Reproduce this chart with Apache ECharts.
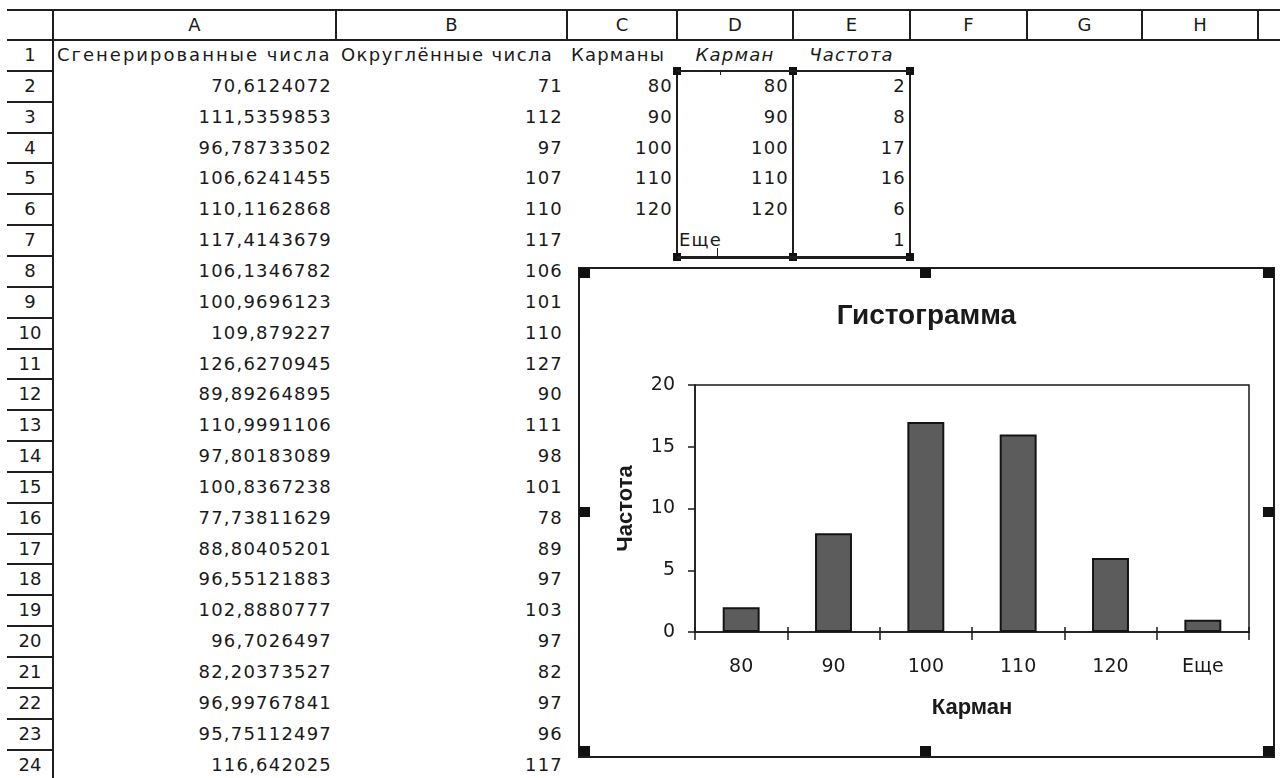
<!DOCTYPE html>
<html>
<head>
<meta charset="utf-8">
<title>Гистограмма</title>
<script src="https://cdn.jsdelivr.net/npm/echarts@6/dist/echarts.min.js"></script>
<style>
  html, body { margin: 0; padding: 0; background: #fff; width: 1280px; height: 778px; overflow: hidden; }
  #sheet { position: absolute; left: 0; top: 0; width: 1280px; height: 778px;
           font-family: "DejaVu Sans", sans-serif; font-size: 18px; color: #1a1a1a; }
  .cell { position: absolute; white-space: nowrap; letter-spacing: 1.2px; box-sizing: border-box; }
  .ln { position: absolute; background: #1e1e1e; }
  .hd { position: absolute; background: #111; }
  #chartBox { position: absolute; left: 578px; top: 267px; width: 693px; height: 487px;
              border: 2px solid #1e1e1e; background: #fff; }
  #chart { width: 693px; height: 487px; }
</style>
</head>
<body>
<div id="sheet"></div>
<div id="chartBox"><div id="chart"></div></div>
<script>
// ---- worksheet data ----
const columnLetters = ['A', 'B', 'C', 'D', 'E', 'F', 'G', 'H'];
const headerRow = ['Сгенерированные числа', 'Округлённые числа', 'Карманы', 'Карман', 'Частота'];
const generated = [70.6124072, 111.5359853, 96.78733502, 106.6241455, 110.1162868, 117.4143679,
                   106.1346782, 100.9696123, 109.879227, 126.6270945, 89.89264895, 110.9991106,
                   97.80183089, 100.8367238, 77.73811629, 88.80405201, 96.55121883, 102.8880777,
                   96.7026497, 82.20373527, 96.99767841, 95.75112497, 116.642025];
const rounded = [71, 112, 97, 107, 110, 117, 106, 101, 110, 127, 90, 111, 98, 101, 78, 89, 97, 103,
                 97, 82, 97, 96, 117];
const bins = [80, 90, 100, 110, 120];
const binLabels = ['80', '90', '100', '110', '120', 'Еще'];
const frequency = [2, 8, 17, 16, 6, 1];

// ---- grid geometry: left edge of each column A..H, then right edge of H ----
const colEdges = [53, 336, 567, 677, 793, 910, 1027, 1142, 1258];
const headTop = 10, headBottom = 40, rowH = 30.85, rowCount = 24;
const rowTop = r => headBottom + (r - 1) * rowH;
const colL = c => colEdges[c], colR = c => colEdges[c + 1];   // c: 0 = A, 1 = B, ...

const sheet = document.getElementById('sheet');
function line(x, y, w, h, cls) {
  const d = document.createElement('div');
  d.className = cls || 'ln';
  d.style.left = x + 'px'; d.style.top = y + 'px';
  d.style.width = w + 'px'; d.style.height = h + 'px';
  sheet.appendChild(d);
}
function cell(text, c, r, align, extra) {
  const d = document.createElement('div');
  d.className = 'cell';
  d.textContent = text;
  d.style.left = colL(c) + 'px'; d.style.width = (colR(c) - colL(c)) + 'px';
  d.style.top = rowTop(r) + 'px'; d.style.height = rowH + 'px'; d.style.lineHeight = rowH + 'px';
  d.style.textAlign = align;
  if (align === 'right') d.style.paddingRight = '4px';
  if (align === 'left') d.style.paddingLeft = '4px';
  if (extra) Object.assign(d.style, extra);
  sheet.appendChild(d);
}
function label(text, x0, x1, y0, h) {
  const d = document.createElement('div');
  d.className = 'cell';
  d.textContent = text;
  d.style.cssText += 'left:' + x0 + 'px;width:' + (x1 - x0) + 'px;top:' + y0 + 'px;height:' + h +
                     'px;line-height:' + h + 'px;text-align:center;letter-spacing:0;';
  sheet.appendChild(d);
}
const fmt = v => String(v).replace('.', ',');

// column header band
line(7, headTop - 1, 1273, 2);
line(7, headBottom - 1, 1273, 2);
colEdges.forEach(x => line(x - 1, headTop, 2, headBottom - headTop));
columnLetters.forEach((c, i) => label(c, colL(i), colR(i), headTop, headBottom - headTop));

// row header column
line(colEdges[0] - 1, headTop, 2, 778 - headTop);
for (let r = 1; r <= rowCount; r++) {
  line(7, rowTop(r + 1) - 1, colEdges[0] - 7, 2);
  label(String(r), 7, colEdges[0], rowTop(r), rowH);
}

// row 1 headings
cell(headerRow[0], 0, 1, 'left', {paddingLeft: '4px', letterSpacing: '2px'});
cell(headerRow[1], 1, 1, 'left', {paddingLeft: '5px', letterSpacing: '1.4px'});
cell(headerRow[2], 2, 1, 'left');
cell(headerRow[3], 3, 1, 'center', {fontStyle: 'italic'});
cell(headerRow[4], 4, 1, 'center', {fontStyle: 'italic'});

// values
generated.forEach((v, i) => cell(fmt(v), 0, i + 2, 'right'));
rounded.forEach((v, i) => cell(String(v), 1, i + 2, 'right'));
bins.forEach((v, i) => cell(String(v), 2, i + 2, 'right'));
binLabels.forEach((v, i) => cell(v, 3, i + 2, /^\d+$/.test(v) ? 'right' : 'left', {paddingLeft: '2px'}));
frequency.forEach((v, i) => cell(String(v), 4, i + 2, 'right'));

// selected output range D2:E7
const selTop = Math.round(rowTop(2)), selBottom = Math.round(rowTop(8)) + 1;
[colL(3), colL(4), colR(4)].forEach(x => {
  line(x - 1, selTop, 2, selBottom - selTop);
  line(x - 4, selTop - 4, 8, 8, 'hd');
  line(x - 4, selBottom - 4, 8, 8, 'hd');
});
line(colL(3), selTop - 1, colR(4) - colL(3), 2);
line(colL(3), selBottom - 1, colR(4) - colL(3), 3);
line(720, selTop, 1, 4);
line(717, selBottom - 9, 1, 9);

// ---- chart ----
const chart = echarts.init(document.getElementById('chart'), null, {renderer: 'canvas'});
const ink = '#1a1a1a';
chart.setOption({
  animation: false,
  backgroundColor: '#fff',
  title: {
    text: 'Гистограмма', left: 'center', top: 28,
    textStyle: {fontFamily: 'Liberation Sans, Arial, sans-serif', fontWeight: 'bold', fontSize: 28, color: ink}
  },
  grid: {left: 115, right: 24, top: 116, bottom: 124, show: true, borderColor: ink, borderWidth: 1.5,
         backgroundColor: 'transparent'},
  xAxis: [{
    type: 'category', data: binLabels, position: 'bottom',
    axisLine: {lineStyle: {color: ink, width: 1.5}},
    axisTick: {show: true, length: 8, lineStyle: {color: ink, width: 1.5}},
    axisLabel: {margin: 26, fontSize: 19, fontFamily: 'DejaVu Sans, sans-serif', color: ink},
    name: 'Карман', nameLocation: 'middle', nameGap: 65,
    nameTextStyle: {fontFamily: 'Liberation Sans, Arial, sans-serif', fontWeight: 'bold', fontSize: 22, color: ink}
  }, {
    type: 'category', data: binLabels, position: 'bottom',
    axisLine: {show: false},
    axisTick: {show: true, inside: true, length: 5, lineStyle: {color: ink, width: 1.5}},
    axisLabel: {show: false}
  }],
  yAxis: {
    type: 'value', min: 0, max: 20, interval: 5,
    axisLine: {show: true, lineStyle: {color: ink, width: 1.5}},
    axisTick: {show: true, length: 7, lineStyle: {color: ink, width: 1.5}},
    splitLine: {show: false},
    axisLabel: {margin: 20, fontSize: 19, fontFamily: 'DejaVu Sans, sans-serif', color: ink},
    name: 'Частота', nameLocation: 'middle', nameRotate: 90, nameGap: 58,
    nameTextStyle: {fontFamily: 'Liberation Sans, Arial, sans-serif', fontWeight: 'bold', fontSize: 22, color: ink}
  },
  series: [{
    type: 'bar', data: frequency, xAxisIndex: 0, barCategoryGap: '60%',
    itemStyle: {color: '#5c5c5c', borderColor: '#141414', borderWidth: 2}
  }]
});

// selection handles of the chart object
[[579, 268], [920, 268], [1263, 268], [579, 507], [1263, 507], [579, 746], [920, 746], [1263, 746]]
  .forEach(([x, y]) => {
    const d = document.createElement('div');
    d.style.cssText = 'position:absolute;width:11px;height:10px;background:#111;z-index:5;left:' + x + 'px;top:' + y + 'px;';
    document.body.appendChild(d);
  });
</script>
</body>
</html>
